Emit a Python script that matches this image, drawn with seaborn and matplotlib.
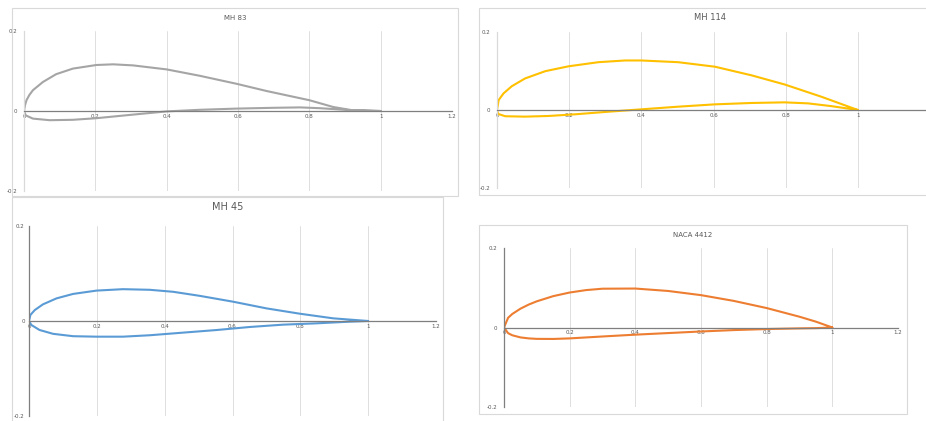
import numpy as np
import pandas as pd
import seaborn as sns
import matplotlib.pyplot as plt
from matplotlib.patches import Rectangle

W, H = 926, 421

# airfoil coordinates (x/c, y/c), upper and lower surface
mh83_xu = [0, 0.003, 0.007, 0.015, 0.025, 0.053, 0.09, 0.137, 0.203, 0.25, 0.306, 0.40, 0.493, 0.596, 0.68, 0.80, 0.867, 0.92, 1.0]
mh83_yu = [0, 0.015, 0.027, 0.040, 0.052, 0.0725, 0.092, 0.106, 0.115, 0.1167, 0.114, 0.104, 0.088, 0.068, 0.05, 0.027, 0.01, 0.002, 0]
mh83_xl = [0, 0.005, 0.025, 0.072, 0.137, 0.203, 0.306, 0.40, 0.493, 0.596, 0.70, 0.774, 0.83, 0.915, 1.0]
mh83_yl = [0, -0.011, -0.019, -0.023, -0.022, -0.018, -0.009, -0.001, 0.003, 0.006, 0.008, 0.009, 0.007, 0.002, 0]

mh114_xu = [0, 0.0046, 0.018, 0.041, 0.078, 0.134, 0.198, 0.281, 0.355, 0.40, 0.502, 0.604, 0.705, 0.797, 0.899, 1.0]
mh114_yu = [0, 0.0255, 0.0425, 0.061, 0.081, 0.0996, 0.112, 0.1226, 0.127, 0.127, 0.1226, 0.111, 0.089, 0.0655, 0.034, 0]
mh114_xl = [0, 0.003, 0.023, 0.078, 0.143, 0.217, 0.30, 0.40, 0.502, 0.604, 0.705, 0.797, 0.862, 0.926, 1.0]
mh114_yl = [0, -0.010, -0.016, -0.017, -0.0153, -0.011, -0.005, 0.0017, 0.0085, 0.0145, 0.018, 0.0196, 0.017, 0.010, 0]

mh45_xu = [0, 0.004, 0.017, 0.041, 0.081, 0.13, 0.199, 0.277, 0.356, 0.425, 0.503, 0.602, 0.70, 0.798, 0.897, 1.0]
mh45_yu = [0, 0.0126, 0.023, 0.035, 0.0476, 0.057, 0.064, 0.067, 0.0657, 0.0615, 0.053, 0.0406, 0.0266, 0.0154, 0.0056, 0]
mh45_xl = [0, 0.007, 0.031, 0.071, 0.13, 0.199, 0.277, 0.356, 0.454, 0.553, 0.651, 0.749, 0.848, 0.946, 1.0]
mh45_yl = [0, -0.0084, -0.0189, -0.027, -0.032, -0.033, -0.033, -0.030, -0.0245, -0.019, -0.0126, -0.0077, -0.0049, -0.0014, 0]

naca_x = [0, 0.0125, 0.025, 0.05, 0.075, 0.1, 0.15, 0.2, 0.25, 0.3, 0.4, 0.5, 0.6, 0.7, 0.8, 0.9, 0.95, 1.0]
naca_yu = [0, 0.0244, 0.0339, 0.0473, 0.0576, 0.0659, 0.0789, 0.0880, 0.0941, 0.0976, 0.0980, 0.0919, 0.0814, 0.0669, 0.0489, 0.0271, 0.0147, 0]
naca_yl = [0, -0.0143, -0.0195, -0.0249, -0.0274, -0.0286, -0.0288, -0.0274, -0.0250, -0.0226, -0.0180, -0.0140, -0.0100, -0.0065, -0.0039, -0.0022, -0.0016, 0]

x_ticks = [0, 0.2, 0.4, 0.6, 0.8, 1.0, 1.2]
x_labels = ["0", "0.2", "0.4", "0.6", "0.8", "1", "1.2"]
y_ticks = [-0.2, 0, 0.2]
y_labels = ["-0.2", "0", "0.2"]


def outline(xu, yu, xl, yl):
    # trailing edge -> upper -> leading edge -> lower -> trailing edge
    return pd.DataFrame({"x": list(xu[::-1]) + list(xl[1:]),
                         "y": list(yu[::-1]) + list(yl[1:])})


def frame(fig, x0, y0, x1, y1):
    fig.patches.append(Rectangle((x0 / W, 1 - y1 / H), (x1 - x0) / W, (y1 - y0) / H,
                                 transform=fig.transFigure, fill=False,
                                 ec="#d9d9d9", lw=0.8))


def panel(fig, box, area, title, tsize, data, color, left_col, ypad, xlabs):
    frame(fig, *box)
    x0, y0, x1, y1 = area
    ax = fig.add_axes([x0 / W, 1 - y1 / H, (x1 - x0) / W, (y1 - y0) / H])
    sns.lineplot(data=data, x="x", y="y", sort=False, estimator=None,
                 color=color, lw=1.5, ax=ax)
    ax.set_xlim(0, 1.2)
    ax.set_ylim(-0.2, 0.2)
    ax.set_xticks(x_ticks)
    ax.set_xticklabels(xlabs)
    ax.set_yticks(y_ticks)
    ax.set_yticklabels(y_labels)
    ax.set_xlabel("")
    ax.set_ylabel("")
    ax.grid(axis="x", color="#d9d9d9", lw=0.6)
    ax.grid(axis="y", visible=False)
    ax.spines["top"].set_visible(False)
    ax.spines["right"].set_visible(False)
    ax.spines["bottom"].set_position(("data", 0))
    ax.spines["bottom"].set_color("#7f7f7f")
    ax.spines["bottom"].set_linewidth(0.9)
    ax.spines["left"].set_color(left_col)
    ax.spines["left"].set_linewidth(0.9)
    ax.tick_params(axis="x", length=0, labelsize=4, colors="#595959", pad=2)
    ax.tick_params(axis="y", length=0, labelsize=4, colors="#595959", pad=ypad)
    ax.set_facecolor("none")
    fig.text((box[0] + box[2]) / 2 / W, 1 - (box[1] + 10) / H, title,
             ha="center", va="center", fontsize=tsize, color="#595959")
    return ax


sns.set_style("white")
plt.rcParams["font.family"] = ["DejaVu Sans"]

fig = plt.figure(figsize=(W / 100, H / 100), dpi=100)

panel(fig, (12, 8, 458, 196), (24, 31, 452, 191), "MH 83", 5,
      outline(mh83_xu, mh83_yu, mh83_xl, mh83_yl), "#a5a5a5", "#d9d9d9", 5, x_labels)
panel(fig, (479, 8, 940, 195), (497, 32, 930, 188), "MH 114", 6,
      outline(mh114_xu, mh114_yu, mh114_xl, mh114_yl), "#ffc000", "#d9d9d9", 5,
      x_labels[:-1] + [""])
panel(fig, (12, 197, 443, 440), (29, 226, 436, 416), "MH 45", 7,
      outline(mh45_xu, mh45_yu, mh45_xl, mh45_yl), "#5b9bd5", "#7f7f7f", 3, x_labels)
panel(fig, (479, 225, 907, 414), (504, 248, 898, 407), "NACA 4412", 5,
      outline(naca_x, naca_yu, naca_x, naca_yl), "#ed7d31", "#7f7f7f", 5, x_labels)

fig.savefig("out.png", dpi=100)
